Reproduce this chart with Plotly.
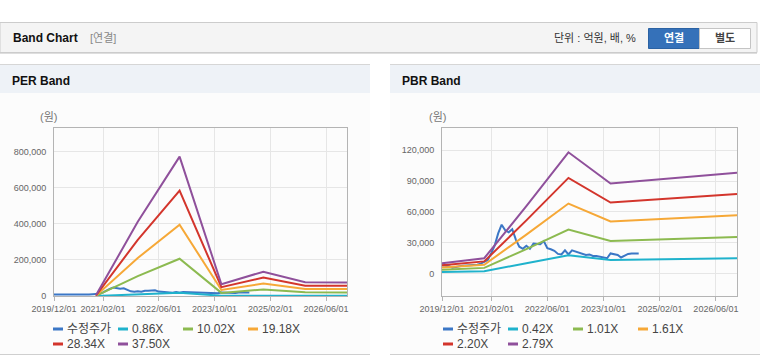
import plotly.graph_objects as go
import pandas as pd

W, H = 760, 364

# ---------------- data ----------------
tick_vals = ["2019-12-01", "2021-02-01", "2022-06-01", "2023-10-01", "2025-02-01", "2026-06-01"]
tick_text = ["2019/12/01", "2021/02/01", "2022/06/01", "2023/10/01", "2025/02/01", "2026/06/01"]
x_range = ["2019-12-01", "2026-12-01"]

# 수정주가 (monthly, from 2019/12)
price_start = "2019-12-01"
price = [8000, 7800, 7000, 5500, 6500, 7000, 7500, 7800, 7500, 7800, 8500, 9500,
         11000, 13000, 20000, 27000, 39000, 47500, 42000, 40000, 43000, 33000, 26000, 24000,
         27000, 24000, 29000, 28500, 28500, 31500, 24500, 23500, 22000, 19000, 18500, 22500,
         18500, 22500, 21500, 20500, 19500, 18000, 18500, 17000, 17000, 16500, 16000, 14800,
         19500, 19000, 18000, 15500, 17000, 19000, 19500, 19500, 19500]

# PER band
per_dates = ["2020-12-01", "2021-12-01", "2022-12-01", "2023-12-01", "2024-12-01", "2025-12-01", "2026-12-01"]
per_labels = ["0.86X", "10.02X", "19.18X", "28.34X", "37.50X"]
per_086 = [100, 9500, 17800, 1500, 3100, 1750, 1700]
per_1002 = [1000, 110000, 207000, 17300, 36000, 20300, 20000]
per_1918 = [1900, 211000, 396000, 33200, 69000, 39000, 38400]
per_2834 = [2800, 312000, 585000, 49000, 102000, 57500, 56700]
per_3750 = [3750, 412000, 774000, 65000, 135000, 76000, 75000]

# PBR band
pbr_dates = ["2019-12-01", "2020-12-01", "2021-12-01", "2022-12-01", "2023-12-01", "2024-12-01", "2025-12-01", "2026-12-01"]
pbr_labels = ["0.42X", "1.01X", "1.61X", "2.20X", "2.79X"]
pbr_042 = [1500, 2200, 9900, 17800, 13200, 13700, 14200, 14800]
pbr_101 = [3600, 5400, 23700, 42700, 31700, 32900, 34200, 35600]
pbr_161 = [5800, 8500, 37800, 68100, 50600, 52500, 54600, 56700]
pbr_220 = [7900, 11700, 51700, 93100, 69100, 71700, 74600, 77400]
pbr_279 = [10000, 14800, 65600, 118000, 87600, 91000, 94600, 98200]

price_name = "수정주가"
colors = ["#3b77c6", "#1fb2cc", "#8cba50", "#f6a837", "#d3352c", "#8f509b"]

FONT = "'Liberation Sans', Arial, 'Noto Sans CJK KR', sans-serif"

# ---------------- helpers (layout positions in pixels) ----------------
def px(x):
    return x / W

def py(y):
    return 1 - y / H

price_dates = pd.date_range(price_start, periods=len(price), freq="MS")

fig = go.Figure()

def add_chart(xa, ya, band_dates, bands):
    fig.add_trace(go.Scatter(x=price_dates, y=price, mode="lines", name=price_name,
                             line=dict(color=colors[0], width=2), xaxis=xa, yaxis=ya,
                             showlegend=False, hoverinfo="skip"))
    for i, (lab, vals) in enumerate(bands):
        fig.add_trace(go.Scatter(x=band_dates, y=vals, mode="lines", name=lab,
                                 line=dict(color=colors[i + 1], width=2), xaxis=xa, yaxis=ya,
                                 showlegend=False, hoverinfo="skip"))

add_chart("x", "y", per_dates, list(zip(per_labels, [per_086, per_1002, per_1918, per_2834, per_3750])))
add_chart("x2", "y2", pbr_dates, list(zip(pbr_labels, [pbr_042, pbr_101, pbr_161, pbr_220, pbr_279])))

GRID = "#e6e6e6"
LINE = "#b4b4b4"
xcommon = dict(type="date", range=x_range, tickvals=tick_vals, ticktext=tick_text,
               showgrid=True, gridcolor=GRID, showline=True, linecolor=LINE, mirror=True,
               ticks="outside", ticklen=4, tickcolor=LINE, zeroline=False, automargin=False,
               tickfont=dict(family=FONT, size=9, color="#666"), fixedrange=True)
ycommon = dict(showgrid=True, gridcolor=GRID, showline=True, linecolor=LINE, mirror=True,
               ticks="", zeroline=False, tickformat=",", ticklabelstandoff=5, automargin=False,
               tickfont=dict(family=FONT, size=9, color="#666"), fixedrange=True)

ydom = [py(296), py(128)]
fig.update_layout(
    template="none",
    width=W, height=H, autosize=False,
    margin=dict(l=0, r=0, t=0, b=0, pad=0),
    paper_bgcolor="white", plot_bgcolor="rgba(0,0,0,0)",
    showlegend=False,
    xaxis=dict(domain=[px(54), px(347)], anchor="y", **xcommon),
    yaxis=dict(domain=ydom, anchor="x", range=[0, 933000], dtick=200000, tick0=0, **ycommon),
    xaxis2=dict(domain=[px(442), px(737)], anchor="y2", **xcommon),
    yaxis2=dict(domain=ydom, anchor="x2", range=[-22000, 141700], dtick=30000, tick0=0, **ycommon),
)

shapes = []
def rect(x0, y0, x1, y1, fill, line=None, lw=1):
    shapes.append(dict(type="rect", xref="paper", yref="paper", layer="below",
                       x0=px(x0), x1=px(x1), y0=py(y1), y1=py(y0), fillcolor=fill,
                       line=dict(color=line or "rgba(0,0,0,0)", width=lw if line else 0)))

def hline(x0, x1, y, color, lw=1, layer="below"):
    shapes.append(dict(type="line", xref="paper", yref="paper", layer=layer,
                       x0=px(x0), x1=px(x1), y0=py(y), y1=py(y), line=dict(color=color, width=lw)))

# top bar
rect(0, 22.5, 757, 52.5, "#f4f4f4", "#cccccc")
hline(0, 757, 53.5, "#dedede", 1)
# buttons
rect(648.5, 28.5, 699.5, 48.5, "#3571b9", "#2b62a3")
rect(699.5, 28.5, 750.5, 48.5, "#ffffff", "#c4c4c4")

# panels
for (a, b) in [(0, 370), (390, 760)]:
    rect(a, 64, b, 354.5, "#fcfcfc")
    rect(a, 64, b, 93, "#eef2f7")
    hline(a, b, 64.5, "#d6d6d6")
    hline(a, b, 354.5, "#cfcfcf")

annotations = []
def text(x, y, s, size=11, color="#333", bold=False, anchor="left"):
    if bold:
        s = "<b>" + s + "</b>"
    annotations.append(dict(xref="paper", yref="paper", x=px(x), y=py(y), text=s,
                            showarrow=False, xanchor=anchor, yanchor="middle",
                            font=dict(family=FONT, size=size, color=color)))

text(11, 38.5, "Band Chart", 12, "#111", True)
text(88, 38.5, "[연결]", 11, "#888")
text(552, 38.5, "단위 : 억원, 배, %", 11, "#333")
text(674, 38.5, "연결", 11, "#ffffff", True, "center")
text(725, 38.5, "별도", 11, "#444", True, "center")
text(10, 80.5, "PER Band", 12, "#111", True)
text(400, 80.5, "PBR Band", 12, "#111", True)
text(38, 117, "(원)", 11, "#777")
text(427, 117, "(원)", 11, "#777")

# legends
def legend(x_start, names):
    for i, nm in enumerate(names):
        r, c = divmod(i, 4)
        x0 = x_start + 65 * c
        y = 329 + 15 * r
        hline(x0, x0 + 10, y, colors[i], 3, "above")
        text(x0 + 12, y, nm, 12, "#444")

legend(53, [price_name] + per_labels)
legend(443, [price_name] + pbr_labels)

fig.update_layout(shapes=shapes, annotations=annotations)
fig.write_html("out.html", config={"displayModeBar": False, "staticPlot": True},
               post_script="document.body.style.margin='0';document.body.style.overflow='hidden';")
